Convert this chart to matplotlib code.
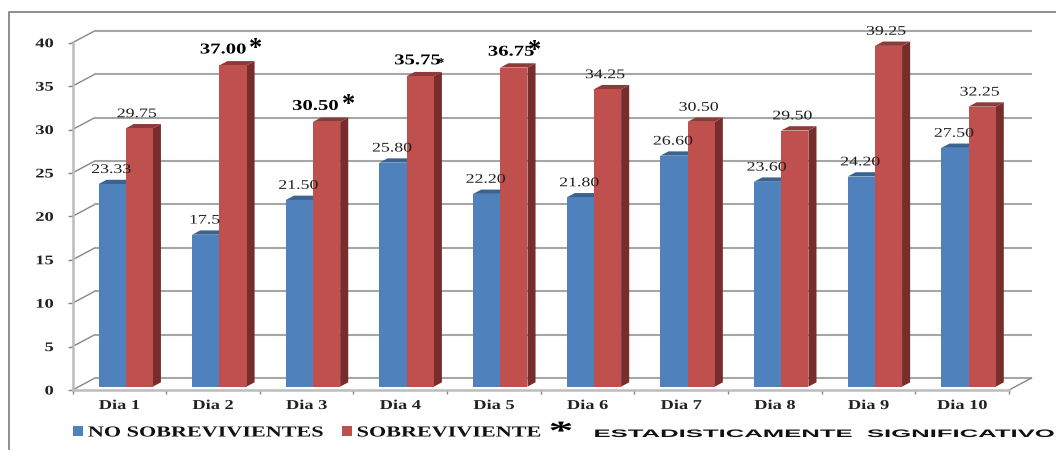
import matplotlib
matplotlib.use("Agg")
import matplotlib.pyplot as plt
from matplotlib.lines import Line2D
from matplotlib.patches import Rectangle
from matplotlib.patheffects import AbstractPathEffect
from matplotlib.transforms import Affine2D

days = ["Dia 1", "Dia 2", "Dia 3", "Dia 4", "Dia 5", "Dia 6", "Dia 7", "Dia 8", "Dia 9", "Dia 10"]
no_sobrevivientes = [23.33, 17.5, 21.50, 25.80, 22.20, 21.80, 26.60, 23.60, 24.20, 27.50]
sobrevivientes = [29.75, 37.00, 30.50, 35.75, 36.75, 34.25, 30.50, 29.50, 39.25, 32.25]
blue_labels = ["23.33", "17.5", "21.50", "25.80", "22.20", "21.80", "26.60", "23.60", "24.20", "27.50"]
red_labels = ["29.75", "37.00", "30.50", "35.75", "36.75", "34.25", "30.50", "29.50", "39.25", "32.25"]
y_ticks = [0, 5, 10, 15, 20, 25, 30, 35, 40]

# dias significativos: label shift, star shift, star size
significant = {1: (-7, 23.5, 19), 2: (-8, 23.5, 19), 3: (-2, 17, 9), 4: (-2, 17, 19)}

BLUE = "#4F81BD"
BLUE_TOP = "#3B6392"
RED = "#C0504D"
RED_TOP = "#8E3A38"
RED_SIDE = "#772D2B"
GRID = "#A6A6A6"
AXIS = "#BCBCBC"
FRAME = "#868686"
INK = "#1F1F1F"

# fake 3D: how far the floor runs backwards, in data units
DEPTH_X = 0.24
DEPTH_Y = 1.38
BAR_FRONT = 0.28
BAR_DEPTH = 0.36
BAR_W = 0.29
BAR_SHIFT = 0.068

SERIF = "Liberation Serif"
SANS = "Liberation Sans"


class Stretch(AbstractPathEffect):
    """Widen the glyph outlines of a text around its left, centre or right."""

    def __init__(self, factor=1.4, anchor="center"):
        super().__init__()
        self.factor = factor
        self.anchor = anchor

    def draw_path(self, renderer, gc, tpath, affine, rgbFace=None):
        box = tpath.get_extents()
        pivot = {"left": box.x0, "center": (box.x0 + box.x1) / 2, "right": box.x1}[self.anchor]
        wide = Affine2D().translate(-pivot, 0).scale(self.factor, 1).translate(pivot, 0)
        renderer.draw_path(gc, tpath, wide + affine, rgbFace)


def draw_bar(ax, x, value, front, top, side):
    # x is the left edge of the front face
    base = BAR_FRONT * DEPTH_Y
    dx = BAR_DEPTH * DEPTH_X
    dy = BAR_DEPTH * DEPTH_Y
    left = x + BAR_FRONT * DEPTH_X
    right = left + BAR_W
    high = base + value
    ax.fill([right, right + dx, right + dx, right], [base, base + dy, high + dy, high],
            color=side, lw=0, zorder=3, clip_on=False)
    ax.fill([left, left + dx, right + dx, right], [high, high + dy, high + dy, high],
            color=top, lw=0, zorder=3, clip_on=False)
    ax.bar(left, value, width=BAR_W, bottom=base, align="edge", color=front, lw=0, zorder=3, clip_on=False)
    return left + BAR_W / 2, high


fig = plt.figure(figsize=(10.56, 4.5), dpi=100)
ax = fig.add_axes([72.5 / 1056, 1 - 390 / 450, (1009 - 72.5) / 1056, (390 - 42.7) / 450])
ax.set_xlim(0, 10)
ax.set_ylim(0, 40)
ax.patch.set_visible(False)

# back wall and floor
for v in y_ticks:
    ax.plot([0, DEPTH_X], [v, v + DEPTH_Y], color=FRAME, lw=1, zorder=1, clip_on=False)
    ax.plot([DEPTH_X, 10 + DEPTH_X], [v + DEPTH_Y, v + DEPTH_Y], color=GRID, lw=1.5, zorder=1, clip_on=False)
ax.plot([10, 10 + DEPTH_X], [0, DEPTH_Y], color=FRAME, lw=1, zorder=1, clip_on=False)

for i in range(len(days)):
    start = i + 0.5 + BAR_SHIFT - BAR_W - BAR_FRONT * DEPTH_X
    bx, by = draw_bar(ax, start, no_sobrevivientes[i], BLUE, BLUE_TOP, BLUE_TOP)
    rx, ry = draw_bar(ax, start + BAR_W, sobrevivientes[i], RED, RED_TOP, RED_SIDE)

    t = ax.annotate(blue_labels[i], (bx, by), xytext=(-0.7, 8), textcoords="offset points", ha="center",
                    va="baseline", family=SERIF, fontsize=9.5, color=INK, zorder=5, annotation_clip=False)
    t.set_path_effects([Stretch(1.35)])

    if i in significant:
        shift, star_shift, star_size = significant[i]
        t = ax.annotate(red_labels[i], (rx, ry), xytext=(shift, 8.6), textcoords="offset points", ha="center",
                        va="baseline", family=SERIF, weight="bold", fontsize=10.8, color="black", zorder=5,
                        annotation_clip=False)
        t.set_path_effects([Stretch(1.38)])
        ax.annotate("*", (rx, ry), xytext=(shift + star_shift, 7.6), textcoords="offset points", ha="center",
                    va="baseline", family=SERIF, weight="bold", fontsize=star_size, color="black", zorder=5,
                    annotation_clip=False)
    else:
        t = ax.annotate(red_labels[i], (rx, ry), xytext=(-1.8, 8), textcoords="offset points", ha="center",
                        va="baseline", family=SERIF, fontsize=9.5, color=INK, zorder=5, annotation_clip=False)
        t.set_path_effects([Stretch(1.35)])

# axes
for name in ["top", "right"]:
    ax.spines[name].set_visible(False)
for name in ["left", "bottom"]:
    ax.spines[name].set_color(AXIS)
    ax.spines[name].set_linewidth(1.8)
    ax.spines[name].set_zorder(2)

ax.set_yticks(y_ticks)
ax.set_yticklabels([str(v) for v in y_ticks], family=SERIF, weight="bold", fontsize=9.5, color="#222222")
ax.tick_params(axis="y", length=3.6, width=1, color=FRAME, pad=10)
ax.set_xticks(range(len(days) + 1))
ax.set_xticklabels([])
ax.set_xticks([i + 0.5 for i in range(len(days))], minor=True)
ax.set_xticklabels(days, minor=True, family=SERIF, weight="bold", fontsize=9.8, color="#222222")
ax.tick_params(axis="x", which="major", length=3, width=1, color=FRAME)
ax.tick_params(axis="x", which="minor", length=0, pad=6.5)
for lbl in ax.get_yticklabels():
    lbl.set_path_effects([Stretch(1.4, "right")])
for lbl in ax.get_xticklabels(minor=True):
    lbl.set_path_effects([Stretch(1.35)])

# outer frame, open at the right and at the bottom
fig.add_artist(Line2D([8.5 / 1056, 8.5 / 1056, 1], [0, 1 - 11.5 / 450, 1 - 11.5 / 450], color=FRAME, lw=1.3))

# legend row
for x0, color in [(73, BLUE), (342, RED)]:
    fig.add_artist(Rectangle((x0 / 1056, 1 - 436 / 450), 10 / 1056, 10 / 450, transform=fig.transFigure,
                             color=color, lw=0))
row = 1 - 436.5 / 450
for x0, label in [(88, "NO SOBREVIVIENTES"), (357, "SOBREVIVIENTE")]:
    t = fig.text(x0 / 1056, row, label, family=SERIF, weight="bold", fontsize=11, color="#111111",
                 ha="left", va="baseline")
    t.set_path_effects([Stretch(1.45, "left")])
t = fig.text(561 / 1056, 1 - 439 / 450, "*", family=SERIF, weight="bold", fontsize=19, color="black",
             ha="center", va="baseline")
t.set_path_effects([Stretch(1.9)])
t = fig.text(594.5 / 1056, 1 - 437 / 450, "ESTADISTICAMENTE  SIGNIFICATIVO", family=SANS, weight="bold",
             fontsize=7.8, color="#111111", ha="left", va="baseline")
t.set_path_effects([Stretch(2.37, "left")])

fig.savefig("out.png", dpi=100)
